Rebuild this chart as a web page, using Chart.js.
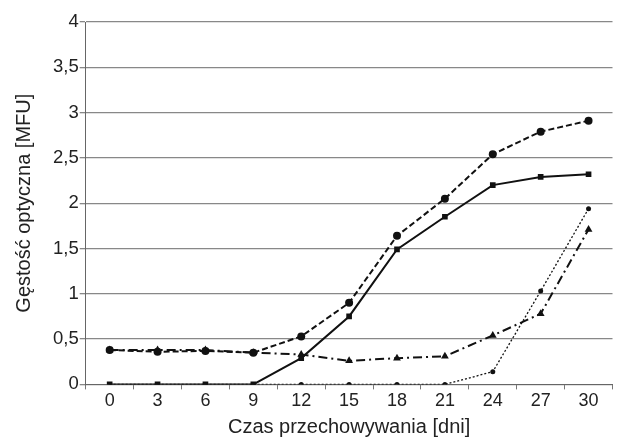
<!DOCTYPE html>
<html>
<head>
<meta charset="utf-8">
<script src="https://cdn.jsdelivr.net/npm/chart.js@4"></script>
<style>
  html, body { margin: 0; padding: 0; background: #fff; }
  #wrap { width: 617px; height: 439px; }
</style>
</head>
<body>
<div id="wrap"><canvas id="myChart"></canvas></div>
<script>
const days = ["0", "3", "6", "9", "12", "15", "18", "21", "24", "27", "30"];
const yTicks = [0, 0.5, 1, 1.5, 2, 2.5, 3, 3.5, 4];

// four series
const dashedCircles = [0.38, 0.36, 0.37, 0.35, 0.53, 0.90, 1.64, 2.05, 2.54, 2.79, 2.91];
const solidSquares = [0, 0, 0, 0, 0.29, 0.75, 1.49, 1.85, 2.20, 2.29, 2.32];
const dashDotTriangles = [0.38, 0.38, 0.38, 0.35, 0.33, 0.26, 0.29, 0.31, 0.54, 0.78, 1.71];
const dottedDiamonds = [0, 0, 0, 0, 0, 0, 0, 0, 0.14, 1.03, 1.94];

const fontFamily = "'Liberation Sans', Arial, sans-serif";
const textColor = "#222";

const makeSet = (data, dash, style, radius, width) => ({
    data: data,
    borderColor: "#111",
    backgroundColor: "#111",
    borderWidth: width,
    borderDash: dash,
    pointStyle: style,
    pointRadius: radius,
    pointBorderWidth: 0,
    tension: 0,
    fill: false
});

const ctx = document.getElementById("myChart").getContext("2d");
const myChart = new Chart(ctx, {
    type: "line",
    data: {
        labels: days,
        datasets: [
            makeSet(dottedDiamonds, [2, 2], "circle", 2.5, 1.3),
            makeSet(dashDotTriangles, [9, 4, 2, 4], "triangle", 4.5, 2),
            makeSet(solidSquares, [], "rect", 4, 2),
            makeSet(dashedCircles, [6, 3], "circle", 4, 2)
        ]
    },
    options: {
        responsive: true,
        maintainAspectRatio: false,
        animation: false,
        layout: { padding: { top: 22, right: 0, left: 12, bottom: 0 } },
        plugins: {
            legend: { display: false },
            tooltip: { enabled: false }
        },
        scales: {
            x: {
                offset: true,
                grid: {
                    offset: true,
                    drawOnChartArea: false,
                    color: "#777",
                    tickLength: 5
                },
                border: { color: "#666", width: 1 },
                ticks: {
                    color: textColor,
                    font: { family: fontFamily, size: 18 },
                    padding: 1,
                    maxRotation: 0
                },
                title: {
                    display: true,
                    text: "Czas przechowywania [dni]",
                    color: textColor,
                    font: { family: fontFamily, size: 20 },
                    padding: { top: 2, bottom: 0 }
                }
            },
            y: {
                min: 0,
                max: 4,
                afterBuildTicks: axis => {
                    axis.ticks = yTicks.map(v => ({ value: v }));
                },
                grid: {
                    color: "#888",
                    lineWidth: 1.3,
                    tickLength: 6
                },
                border: { color: "#666", width: 1 },
                ticks: {
                    color: textColor,
                    font: { family: fontFamily, size: 18.5 },
                    padding: 1,
                    callback: v => String(v).replace(".", ",")
                },
                title: {
                    display: true,
                    text: "Gęstość optyczna [MFU]",
                    color: textColor,
                    font: { family: fontFamily, size: 20 },
                    padding: { top: 0, bottom: 16 }
                }
            }
        }
    }
});
</script>
</body>
</html>
